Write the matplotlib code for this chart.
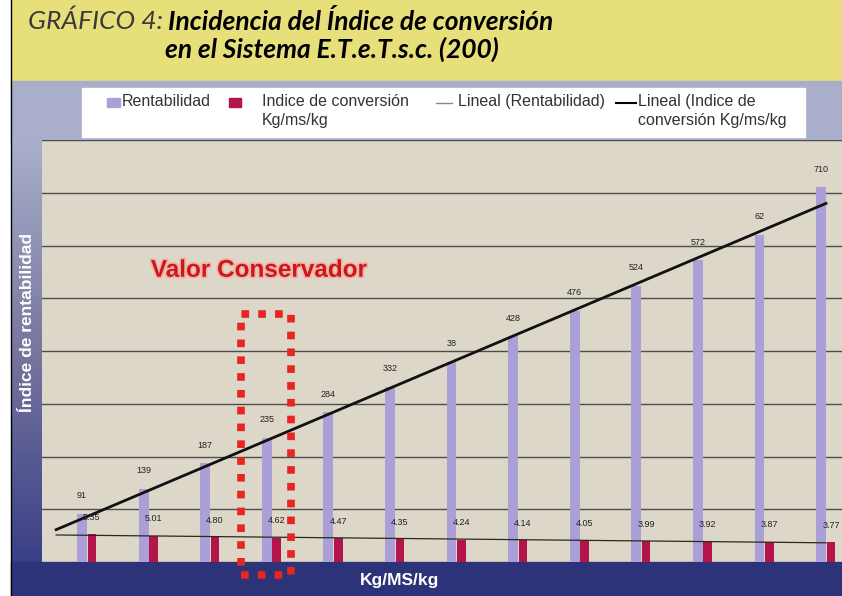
import numpy as np
import matplotlib.pyplot as plt
import matplotlib.patheffects as pe
from matplotlib.patches import Rectangle
from matplotlib.colors import LinearSegmentedColormap

# datos
categorias = np.arange(13)
rentabilidad = [91, 139, 187, 235, 284, 332, 380, 428, 476, 524, 572, 620, 710]
etiquetas_rent = ['91', '139', '187', '235', '284', '332', '38', '428', '476',
                  '524', '572', '62', '710']
indice_conv = [5.35, 5.01, 4.80, 4.62, 4.47, 4.35, 4.24, 4.14, 4.05, 3.99, 3.92, 3.87, 3.77]
escala_indice = 10  # el indice se dibuja x10 sobre el mismo eje

W, H = 842, 596
NARROW = ['Liberation Sans Narrow', 'Liberation Sans', 'DejaVu Sans']
TITLE = ['Lato', 'DejaVu Sans']
PURPLE = '#ab9fd8'
RED = '#b3144b'

fig = plt.figure(figsize=(W / 100, H / 100), dpi=100)
fig.patch.set_facecolor('white')

# fondo decorativo en pixeles
bg = fig.add_axes([0, 0, 1, 1])
bg.add_patch(Rectangle((11, 0), W - 11, 81, color='#e7df7a'))
bg.add_patch(Rectangle((11, 81), W - 11, 60, color='#a9afcb'))
grad = np.linspace(0, 1, 200)[:, None]
cmap = LinearSegmentedColormap.from_list('strip', ['#a9afcb', '#76769e', '#3a3f86'])
bg.imshow(grad, cmap=cmap, extent=(11, 42, 563, 140), aspect='auto')
bg.add_patch(Rectangle((11, 562), W - 11, 34, color='#2d3379'))
bg.plot([10.5, 10.5], [0, H], color='black', lw=1)

# leyenda dibujada a mano
bg.add_patch(Rectangle((82, 88), 723, 49, color='white'))
bg.add_patch(Rectangle((107, 98), 13, 9, color=PURPLE))
bg.add_patch(Rectangle((229, 98), 12, 9, color=RED))
bg.plot([436, 452], [103, 103], color='#8a8a7a', lw=1)
bg.plot([616, 636], [103, 103], color='black', lw=1.5)
leg_kw = dict(fontsize=11.5, family=NARROW, color='#333333', va='top', ha='left',
              linespacing=1.3)
bg.text(122, 94, 'Rentabilidad', **leg_kw)
bg.text(262, 94, 'Indice de conversión\nKg/ms/kg', **leg_kw)
bg.text(458, 94, 'Lineal (Rentabilidad)', **leg_kw)
bg.text(638, 94, 'Lineal (Indice de\nconversión Kg/ms/kg', **leg_kw)

bg.set_xlim(0, W)
bg.set_ylim(H, 0)
bg.axis('off')

# grafico principal
ax = fig.add_axes([42 / W, (H - 562) / H, (W - 42) / W, (562 - 140) / H])
ax.set_facecolor('#dcd7c9')
ax.set_xlim(-0.73, 12.26)
ax.set_ylim(0, 800)
ax.set_yticks(range(0, 801, 100))
ax.set_xticks([])
ax.yaxis.grid(True, color='#4d4d4d', lw=1)
ax.set_axisbelow(True)
ax.tick_params(length=0, labelleft=False)
for s in ax.spines.values():
    s.set_visible(False)

ind10 = np.array(indice_conv) * escala_indice
ax.bar(categorias - 0.08, rentabilidad, width=0.16, color=PURPLE, zorder=2)
ax.bar(categorias + 0.08, ind10, width=0.14, color=RED, zorder=2)

xs = np.array([-0.5, 12])
p = np.polyfit(categorias, rentabilidad, 1)
ax.plot(xs, np.polyval(p, xs), color='#111111', lw=2, zorder=4)
q = np.polyfit(categorias, ind10, 1)
ax.plot(xs, np.polyval(q, xs), color='#2a2a1a', lw=0.9, zorder=3)

for xi, v, s in zip(categorias, rentabilidad, etiquetas_rent):
    ax.annotate(s, (xi - 0.08, v), xytext=(0, 13), textcoords='offset points',
                ha='center', va='center', fontsize=6.5, family=NARROW, color='#222222')
for xi, v in zip(categorias, indice_conv):
    ax.annotate(f'{v:.2f}', (xi + 0.08, v * escala_indice), xytext=(0, 12),
                textcoords='offset points', ha='center', va='center',
                fontsize=6.5, family=NARROW, color='#222222', zorder=5)

ax.text(2.79, 553, 'Valor Conservador', color='#cc1818', fontsize=17.5,
        fontweight='bold', ha='center', va='center', family='Liberation Sans',
        path_effects=[pe.withStroke(linewidth=2.5, foreground='#f0b4ac')])
ax.add_patch(Rectangle((2.5, -25), 0.81, 495, fill=False, edgecolor='#e8251f',
                       lw=5.5, linestyle=(0, (1, 1.2)), clip_on=False, zorder=6))

# titulos de ejes
fig.text(27 / W, 1 - 322 / H, 'Índice de rentabilidad', rotation=90, color='white',
         fontweight='bold', fontsize=12.5, ha='center', va='center',
         family='Liberation Sans')
fig.text(400 / W, 1 - 580 / H, 'Kg/MS/kg', color='white', fontweight='bold',
         fontsize=12.5, ha='center', va='center', family='Liberation Sans')

# titulo
t1 = fig.text(28 / W, 1 - 21 / H, 'GRÁFICO 4:', fontsize=19, style='italic',
              color='#3a3a3a', family=TITLE, va='center', ha='left')
fig.canvas.draw()
bb = t1.get_window_extent()
fig.text((bb.x1 + 5) / W, 1 - 21 / H, 'Incidencia del Índice de conversión',
         fontsize=19, style='italic', fontweight='bold', color='black',
         family=TITLE, va='center', ha='left')
fig.text(165 / W, 1 - 49 / H, 'en el Sistema E.T.e.T.s.c. (200)', fontsize=19,
         style='italic', fontweight='bold', color='black', family=TITLE,
         va='center', ha='left')

fig.savefig('out.png', dpi=100)
